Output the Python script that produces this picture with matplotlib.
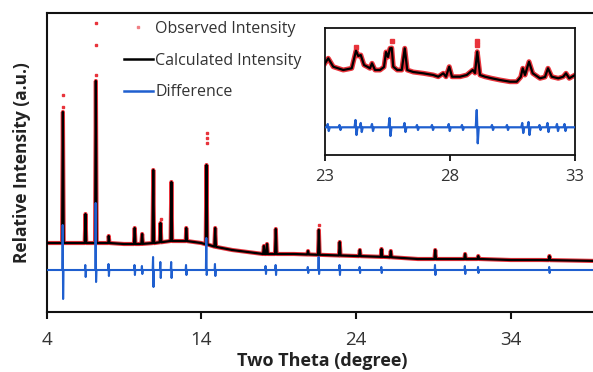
import numpy as np
import matplotlib
matplotlib.use("Agg")
import matplotlib.pyplot as plt

plt.rcParams['font.family'] = ['Open Sans', 'DejaVu Sans']

# ---------------- data ----------------
# main pattern: background knots (two-theta, intensity)
bg_x = [4.0, 5.5, 8.0, 9.0, 10.0, 11.0, 12.0, 13.0, 14.0, 15.0, 16.0, 17.0, 18.0,
        19.0, 20.0, 22.0, 24.0, 26.0, 28.0, 30.0, 32.0, 34.0, 36.0, 39.7]
bg_y = [69, 69, 69, 68, 68, 69, 71, 71, 69, 65, 62, 60, 58,
        58, 58, 57, 56, 55, 53, 53, 53, 52, 52, 51]

# Bragg peaks: position, calculated top
peak_x = [5.06, 6.52, 7.19, 8.02, 9.70, 10.18, 10.90, 11.37, 12.07, 13.03, 14.34, 14.90,
          18.05, 18.25, 18.82, 20.90, 21.60, 22.95, 24.25, 25.65, 26.25, 29.12, 31.05,
          31.90, 36.50]
peak_top = [200, 98, 231, 76, 84, 78, 142, 89, 130, 84, 147, 84,
            66, 68, 83, 61, 82, 70, 62, 63, 61, 62, 58, 56, 56]

# observed points lying above the calculated peak tops
obs_top_x = [5.06, 5.06, 7.19, 7.19, 7.19, 11.37, 14.34, 14.34, 14.34, 21.60]
obs_top_y = [217, 205, 289, 267, 237, 93, 179, 174, 169, 87]

# difference curve: baseline and spike extremes (up, down)
diff_base = 42
diff_x = [5.06, 6.52, 7.19, 8.02, 9.70, 10.18, 10.90, 11.37, 12.07, 13.03, 14.34, 14.90,
          18.17, 18.82, 20.90, 21.60, 22.95, 24.25, 25.65, 29.12, 31.05, 31.90, 36.50]
diff_up = [87, 47, 109, 48, 47, 46, 55, 50, 50, 47, 74, 48,
           46, 47, 45, 55, 47, 45, 45, 47, 46, 45, 45]
diff_dn = [13, 35, 30, 36, 37, 38, 25, 34, 34, 37, 37, 36,
           38, 37, 39, 38, 37, 39, 39, 37, 38, 39, 39]

# inset (23-33 degrees): calculated profile knots
in_x = [23.0, 23.13, 23.33, 23.73, 24.07, 24.24, 24.33, 24.43, 24.56, 24.69, 24.8, 24.88,
        25.0, 25.2, 25.36, 25.44, 25.52, 25.6, 25.67, 25.73, 25.89, 26.07, 26.19, 26.29,
        26.53, 26.93, 27.33, 27.53, 27.73, 27.84, 27.97, 28.08, 28.4, 28.67, 28.91, 29.0,
        29.09, 29.2, 29.4, 29.67, 30.0, 30.4, 30.67, 30.83, 30.91, 31.0, 31.16, 31.31,
        31.6, 31.8, 31.92, 32.07, 32.33, 32.53, 32.64, 32.77, 33.0]
in_calc = [91.7, 96.7, 88.3, 85, 86.7, 104.3, 99, 100, 90, 88.3, 86.7, 91.7,
           85, 85, 88, 103, 98, 106.7, 107, 88.3, 85, 85, 106.7, 85,
           83, 81.7, 80, 78.3, 81.7, 78.3, 88.3, 78.3, 78.3, 80, 85, 82,
           103.3, 80, 78.3, 76.7, 75, 73.3, 73.3, 78, 86.7, 80, 93.3, 81.7,
           76.7, 78, 86.7, 78.3, 76.7, 78.3, 81.7, 76.7, 80]
in_obs_top_x = [24.24, 25.67, 29.09, 29.09]
in_obs_top_y = [108.3, 114.3, 114.3, 110]

in_diff_base = 27.7
in_diff_x = [23.13, 23.6, 24.24, 24.45, 24.9, 25.6, 26.2, 26.7, 27.3, 27.97, 28.5,
             29.09, 29.7, 30.3, 30.91, 31.16, 31.6, 31.92, 32.3, 32.6]
in_diff_up = [31, 30, 35, 32, 31, 37, 32, 30, 30, 31, 30, 45, 30, 30, 32, 33, 30, 32, 31, 31]
in_diff_dn = [24, 25, 20, 23, 24, 19, 23, 25, 25, 24, 25, 11.7, 25, 25, 22, 20, 25, 23, 24, 24]

xticks_main = [4, 14, 24, 34]
xticks_inset = [23, 28, 33]

RED = '#e8333b'
BLUE = '#1f5fcf'

# ---------------- build polylines from the arrays ----------------
def calc_path(bx, by, px, pt, hw=0.05):
    xs = list(bx)
    ys = list(by)
    for p, t in zip(px, pt):
        b = np.interp(p, bx, by)
        xs += [p - hw, p, p + hw]
        ys += [b, t, b]
    order = np.argsort(xs, kind='stable')
    return np.array(xs)[order], np.array(ys)[order]

def diff_path(x0, x1, base, dx, up, dn, hw=0.04):
    xs = [x0]
    ys = [base]
    for p, u, d in zip(dx, up, dn):
        xs += [p - hw, p - hw / 3, p + hw / 3, p + hw]
        ys += [base, u, d, base]
    xs.append(x1)
    ys.append(base)
    return np.array(xs), np.array(ys)

cx, cy = calc_path(bg_x, bg_y, peak_x, peak_top)
dx, dy = diff_path(4.0, 39.7, diff_base, diff_x, diff_up, diff_dn)

# ---------------- figure ----------------
W, H = 593, 372
fig = plt.figure(figsize=(W / 100, H / 100), dpi=100)
ax = fig.add_axes([46.5 / W, 1 - 312 / H, (W - 46.5) / W + 0.01, 299 / H])

ax.plot(cx, cy, color=RED, lw=3.0, solid_joinstyle='round', zorder=2)
ax.plot(obs_top_x, obs_top_y, linestyle='none', marker='s', ms=2.0, color=RED, zorder=2)
ax.plot(cx, cy, color='black', lw=1.6, zorder=3)
ax.plot(dx, dy, color=BLUE, lw=1.5, zorder=4)

ax.set_xlim(4, 39.7)
ax.set_ylim(0, 299)
ax.set_xticks(xticks_main)
ax.set_xticklabels([str(t) for t in xticks_main])
ax.set_yticks([])
for s in ['left', 'bottom', 'top', 'right']:
    ax.spines[s].set_linewidth(1.5)
    ax.spines[s].set_color('#111111')
ax.tick_params(axis='x', direction='out', length=5, width=1.5, labelsize=13.5,
               pad=9, colors='#111111', labelcolor='#333333')
ax.set_xlabel('Two Theta (degree)', fontsize=13, fontweight='bold', color='#222222', labelpad=2)
ax.set_ylabel('Relative Intensity (a.u.)', fontsize=12.5, fontweight='bold', color='#222222', labelpad=11)

# legend
h1, = ax.plot([], [], linestyle='none', marker='s', ms=2.0, color='#f07f84')
h2, = ax.plot([], [], color='black', lw=1.8)
h3, = ax.plot([], [], color=BLUE, lw=1.8)
leg = ax.legend([h1, h2, h3], ['Observed Intensity', 'Calculated Intensity', 'Difference'],
                loc='upper left', bbox_to_anchor=(124 / W, 1 - 21 / H),
                bbox_transform=fig.transFigure, frameon=False, fontsize=11.5,
                handlelength=1.8, handletextpad=0.15, labelspacing=0.98,
                borderpad=0, borderaxespad=0)
for t in leg.get_texts():
    t.set_color('#333333')

# inset
ix, iy = calc_path(in_x, in_calc, [], [])
idx, idy = diff_path(23.0, 33.0, in_diff_base, in_diff_x, in_diff_up, in_diff_dn, hw=0.06)
ins = fig.add_axes([325 / W, 1 - 155 / H, 250 / W, 127 / H])
ins.plot(ix, iy, color=RED, lw=3.6, solid_joinstyle='round', zorder=2)
ins.plot(in_obs_top_x, in_obs_top_y, linestyle='none', marker='s', ms=2.2, color=RED, zorder=2)
ins.plot(ix, iy, color='black', lw=1.6, zorder=3)
ins.plot(idx, idy, color=BLUE, lw=1.6, zorder=4)
ins.set_xlim(23, 33)
ins.set_ylim(0, 127)
ins.set_xticks(xticks_inset)
ins.set_xticklabels([str(t) for t in xticks_inset])
ins.set_yticks([])
for s in ins.spines.values():
    s.set_linewidth(1.3)
    s.set_color('#111111')
ins.tick_params(axis='x', direction='out', length=4, width=1.3, labelsize=12,
                pad=6, colors='#111111', labelcolor='#333333')

fig.savefig('out.png', dpi=100)
